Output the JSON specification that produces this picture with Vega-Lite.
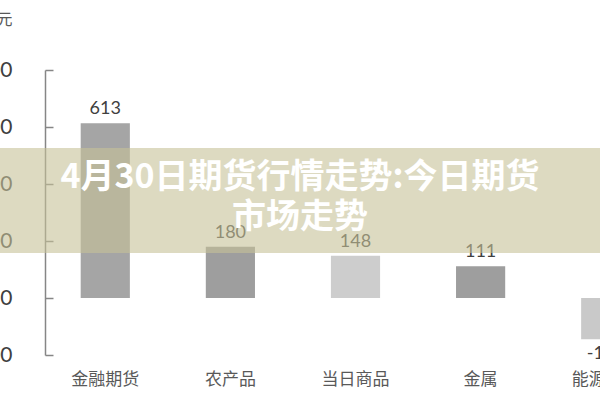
{
  "$schema": "https://vega.github.io/schema/vega-lite/v6.json",
  "width": 600,
  "height": 285,
  "autosize": "none",
  "padding": {"left": 0, "top": 70, "right": 0, "bottom": 45},
  "background": "white",
  "config": {
    "view": {"stroke": null},
    "locale": {"number": {"decimal": ".", "thousands": ",", "grouping": [3], "currency": ["", ""], "minus": "-"}}
  },
  "datasets": {
    "sectors": [
      {"category": "金融期货", "value": 613},
      {"category": "农产品", "value": 180},
      {"category": "当日商品", "value": 148},
      {"category": "金属", "value": 111},
      {"category": "能源化工", "value": -145}
    ],
    "banner": [
      {"top": 526, "bottom": 158, "mid": 421, "headline": "4月30日期货行情走势:今日期货\n市场走势"}
    ]
  },
  "layer": [
    {
      "data": {"name": "sectors"},
      "mark": {"type": "bar"},
      "encoding": {
        "x": {
          "field": "category", "type": "nominal", "sort": null,
          "scale": {"range": [0, 711], "paddingInner": 0.607, "paddingOuter": 0.645},
          "axis": {
            "title": null, "domain": false, "ticks": false, "labelAngle": 0,
            "labelPadding": 16, "labelFontSize": 17, "labelColor": "#595959",
            "labelFont": "Noto Sans CJK SC"
          }
        },
        "y": {
          "field": "value", "type": "quantitative",
          "scale": {"domain": [-200, 800], "nice": false},
          "axis": {
            "values": [-200, 0, 200, 400, 600, 800],
            "offset": -45, "grid": false,
            "domainColor": "#868686", "domainWidth": 1.5,
            "tickColor": "#868686", "tickWidth": 1.5, "tickSize": -8,
            "labelFont": "Lato", "labelFontSize": 21, "labelColor": "#404040", "labelPadding": 41,
            "title": "亿元", "titleAngle": 0, "titleAlign": "right", "titleBaseline": "middle",
            "titleX": -33, "titleY": -51, "titleFont": "Noto Sans CJK SC",
            "titleFontSize": 16, "titleFontWeight": "normal", "titleColor": "#595959"
          }
        },
        "color": {
          "field": "category", "type": "nominal", "legend": null,
          "scale": {
            "domain": ["金融期货", "农产品", "当日商品", "金属", "能源化工"],
            "range": ["#a5a5a5", "#9e9e9e", "#cdcdcd", "#9e9e9e", "#c9c9c9"]
          }
        }
      }
    },
    {
      "data": {"name": "sectors"},
      "transform": [{"filter": "datum.value >= 0"}],
      "mark": {"type": "text", "baseline": "alphabetic", "dy": -9, "font": "Lato", "fontSize": 18, "color": "#404040"},
      "encoding": {
        "x": {"field": "category", "type": "nominal", "sort": null},
        "y": {"field": "value", "type": "quantitative"},
        "text": {"field": "value", "type": "quantitative"}
      }
    },
    {
      "data": {"name": "sectors"},
      "transform": [{"filter": "datum.value < 0"}],
      "mark": {"type": "text", "baseline": "top", "dy": 6, "font": "Lato", "fontSize": 18, "color": "#404040"},
      "encoding": {
        "x": {"field": "category", "type": "nominal", "sort": null},
        "y": {"field": "value", "type": "quantitative"},
        "text": {"field": "value", "type": "quantitative"}
      }
    },
    {
      "data": {"name": "banner"},
      "mark": {"type": "rect", "color": "rgb(198,194,152)", "opacity": 0.6},
      "encoding": {
        "y": {"field": "top", "type": "quantitative"},
        "y2": {"field": "bottom"}
      }
    },
    {
      "data": {"name": "banner"},
      "mark": {
        "type": "text", "lineBreak": "\n", "lineHeight": 40, "align": "center", "baseline": "middle",
        "font": "Noto Sans CJK SC", "fontSize": 34, "fontWeight": "bold", "color": "white"
      },
      "encoding": {
        "y": {"field": "mid", "type": "quantitative"},
        "text": {"field": "headline"}
      }
    }
  ]
}
